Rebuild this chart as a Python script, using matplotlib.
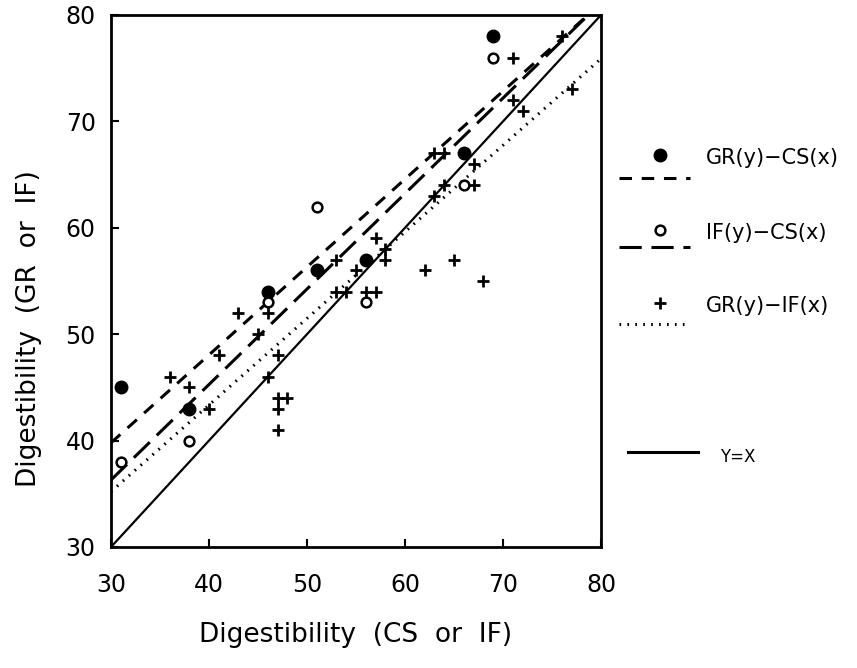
import matplotlib.pyplot as plt
import numpy as np
from matplotlib.lines import Line2D

plt.rcParams['font.family'] = 'DejaVu Sans'
plt.rcParams['lines.scale_dashes'] = False

# GR(y) - CS(x), filled circles
gr_cs_x = [31, 38, 46, 51, 56, 66, 69]
gr_cs_y = [45, 43, 54, 56, 57, 67, 78]

# IF(y) - CS(x), open circles
if_cs_x = [31, 38, 46, 51, 56, 66, 69]
if_cs_y = [38, 40, 53, 62, 53, 64, 76]

# GR(y) - IF(x), pluses
gr_if_x = [36, 38, 40, 41, 43, 45, 46, 46, 47, 47, 48, 47, 47, 53, 53, 54, 55, 56,
           57, 57, 58, 58, 62, 63, 63, 64, 64, 65, 67, 67, 68, 71, 71, 72, 76, 77]
gr_if_y = [46, 45, 43, 48, 52, 50, 52, 46, 48, 44, 44, 43, 41, 57, 54, 54, 56, 54,
           54, 59, 58, 57, 56, 63, 67, 67, 64, 57, 66, 64, 55, 72, 76, 71, 78, 73]

ticks = [30, 40, 50, 60, 70, 80]
labels = ['GR(y)\u2212CS(x)', 'IF(y)\u2212CS(x)', 'GR(y)\u2212IF(x)', 'Y=X']

W, H = 857, 668
fig = plt.figure(figsize=(W / 100, H / 100), dpi=100)
ax = fig.add_axes([111 / W, 1 - 547 / H, 490 / W, 532 / H])

# fitted regression lines for each pair
xx = np.array([30, 80])
styles = [(0, (9, 7)), (0, (16, 7)), (0, (1.2, 4.5))]
for xs, ys, ls in zip([gr_cs_x, if_cs_x, gr_if_x], [gr_cs_y, if_cs_y, gr_if_y], styles):
    k, b = np.polyfit(xs, ys, 1)
    ax.plot(xx, k * xx + b, color='black', lw=2.2, linestyle=ls)

ax.plot(xx, xx, color='black', lw=1.6)

ax.plot(gr_cs_x, gr_cs_y, 'o', color='black', ms=9)
ax.plot(if_cs_x, if_cs_y, 'o', mfc='white', mec='black', mew=1.8, ms=7)
ax.plot(gr_if_x, gr_if_y, '+', color='black', ms=9, mew=2)

ax.set_xlim(30, 80)
ax.set_ylim(30, 80)
ax.set_xticks(ticks)
ax.set_yticks(ticks)
ax.tick_params(direction='in', length=6, width=1.5, labelsize=17)
ax.tick_params(axis='x', pad=19)
ax.tick_params(axis='y', pad=11)
for s in ax.spines.values():
    s.set_linewidth(2)

ax.set_xlabel('Digestibility  (CS  or  IF)', fontsize=19)
ax.xaxis.set_label_coords(0.5, -(622 - 547) / 532)
ax.set_ylabel('Digestibility  (GR  or  IF)', fontsize=19)
ax.yaxis.set_label_coords(-(111 - 42) / 490, 0.41)


# legend drawn in pixel positions on the figure
def px(x, y):
    return x / W, 1 - y / H


mk = [dict(marker='o', color='black', ms=9, ls='none'),
      dict(marker='o', mfc='white', mec='black', mew=1.8, ms=7, ls='none'),
      dict(marker='+', color='black', ms=9, mew=2, ls='none')]
rows = [(155, 178), (230, 247), (303, 324)]
for (ym, yl), m, ls, lab in zip(rows, mk, styles, labels[:3]):
    x0, y0 = px(660, ym)
    fig.add_artist(Line2D([x0], [y0], transform=fig.transFigure, **m))
    a, b = px(619, yl)
    c, _ = px(690, yl)
    fig.add_artist(Line2D([a, c], [b, b], transform=fig.transFigure,
                          color='black', lw=2.2, linestyle=ls))
    tx, ty = px(706, ym + 3)
    fig.text(tx, ty, lab, fontsize=15, va='center', ha='left')

a, b = px(628, 452)
c, _ = px(698, 452)
fig.add_artist(Line2D([a, c], [b, b], transform=fig.transFigure, color='black', lw=2.2))
tx, ty = px(720, 457)
fig.text(tx, ty, labels[3], fontsize=12, va='center', ha='left')

fig.savefig('out.png', dpi=100)
